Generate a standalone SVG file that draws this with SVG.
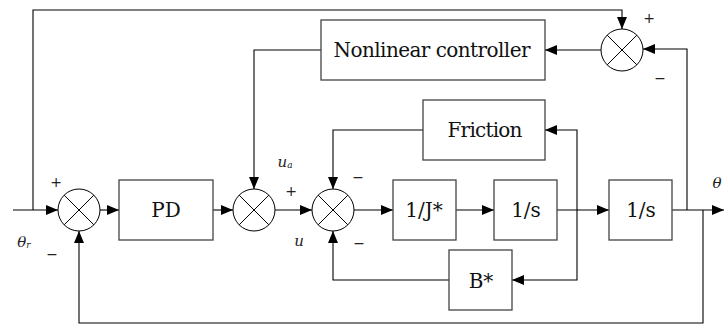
<svg xmlns="http://www.w3.org/2000/svg" width="724" height="325" viewBox="0 0 724 325">
<defs>
<marker id="arr" markerWidth="12" markerHeight="10" refX="12" refY="5" orient="auto" markerUnits="userSpaceOnUse">
<path d="M0,0 L12,5 L0,10 Z" fill="#000"/>
</marker>
<g id="sumshape">
<circle cx="0" cy="0" r="21" fill="#fff" stroke="#000" stroke-width="1"/>
<line x1="-14.8" y1="-14.8" x2="14.8" y2="14.8" stroke="#000" stroke-width="1"/>
<line x1="-14.8" y1="14.8" x2="14.8" y2="-14.8" stroke="#000" stroke-width="1"/>
</g>
</defs>
<style>
.box{fill:#fff;stroke:#444;stroke-width:1.3}
.lbl{font-family:"DejaVu Serif",serif;font-size:20px;fill:#111;text-anchor:middle}
.sm{font-family:"DejaVu Sans",sans-serif;font-size:14px;fill:#222;text-anchor:middle}
.it{font-family:"DejaVu Serif",serif;font-style:italic;font-size:15px;fill:#222;text-anchor:middle}
.cn{fill:none;stroke:#000;stroke-width:1.1}
</style>
<rect width="724" height="325" fill="#fff"/>

<g id="connectors">
<path class="cn" d="M13,210 H58" marker-end="url(#arr)"/>
<path class="cn" d="M33,210 V10 H622 V29" marker-end="url(#arr)"/>
<path class="cn" d="M100,210 H119" marker-end="url(#arr)"/>
<path class="cn" d="M213,210 H233" marker-end="url(#arr)"/>
<path class="cn" d="M321,50 H254 V189" marker-end="url(#arr)"/>
<path class="cn" d="M275,210 H312" marker-end="url(#arr)"/>
<path class="cn" d="M423,130 H333 V189" marker-end="url(#arr)"/>
<path class="cn" d="M354,210 H393" marker-end="url(#arr)"/>
<path class="cn" d="M456,210 H494" marker-end="url(#arr)"/>
<path class="cn" d="M557,210 H609" marker-end="url(#arr)"/>
<path class="cn" d="M577,210 V130 H545" marker-end="url(#arr)"/>
<path class="cn" d="M577,210 V280 H512" marker-end="url(#arr)"/>
<path class="cn" d="M449,280 H333 V231" marker-end="url(#arr)"/>
<path class="cn" d="M672,210 H724" marker-end="url(#arr)"/>
<path class="cn" d="M687,210 V49 H643" marker-end="url(#arr)"/>
<path class="cn" d="M703,210 V323 H79 V231" marker-end="url(#arr)"/>
<path class="cn" d="M601,50 H545" marker-end="url(#arr)"/>
</g>

<g id="sum1"><use href="#sumshape" x="79" y="210"/></g>
<g id="sum2"><use href="#sumshape" x="254" y="210"/></g>
<g id="sum3"><use href="#sumshape" x="333" y="210"/></g>
<g id="sum4"><use href="#sumshape" x="622" y="50"/></g>

<g id="pd"><rect class="box" x="119" y="180" width="94" height="60"/><text class="lbl" x="166" y="217">PD</text></g>
<g id="nonlinear"><rect class="box" x="321" y="20" width="224" height="60"/><text class="lbl" x="432" y="57" textLength="197">Nonlinear controller</text></g>
<g id="friction"><rect class="box" x="423" y="100" width="122" height="60"/><text class="lbl" x="485" y="137" textLength="75">Friction</text></g>
<g id="invj"><rect class="box" x="393" y="180" width="63" height="60"/><text class="lbl" x="424" y="217">1/J*</text></g>
<g id="int1"><rect class="box" x="494" y="180" width="63" height="60"/><text class="lbl" x="526" y="217">1/s</text></g>
<g id="int2"><rect class="box" x="609" y="180" width="63" height="60"/><text class="lbl" x="641" y="217">1/s</text></g>
<g id="bstar"><rect class="box" x="449" y="250" width="63" height="60"/><text class="lbl" x="481" y="288">B*</text></g>

<g id="labels">
<text class="sm" x="56" y="187">+</text>
<text class="sm" x="52" y="259">−</text>
<text class="it" x="24" y="247">θ<tspan font-size="9" dy="1">r</tspan></text>
<text class="it" x="285" y="167">u<tspan font-size="9" dy="1">a</tspan></text>
<text class="sm" x="291" y="196">+</text>
<text class="it" x="299" y="246">u</text>
<text class="sm" x="358" y="182">−</text>
<text class="sm" x="359" y="248">−</text>
<text class="sm" x="649" y="23">+</text>
<text class="sm" x="660" y="83">−</text>
<text class="it" x="717" y="188">θ</text>
</g>
</svg>
